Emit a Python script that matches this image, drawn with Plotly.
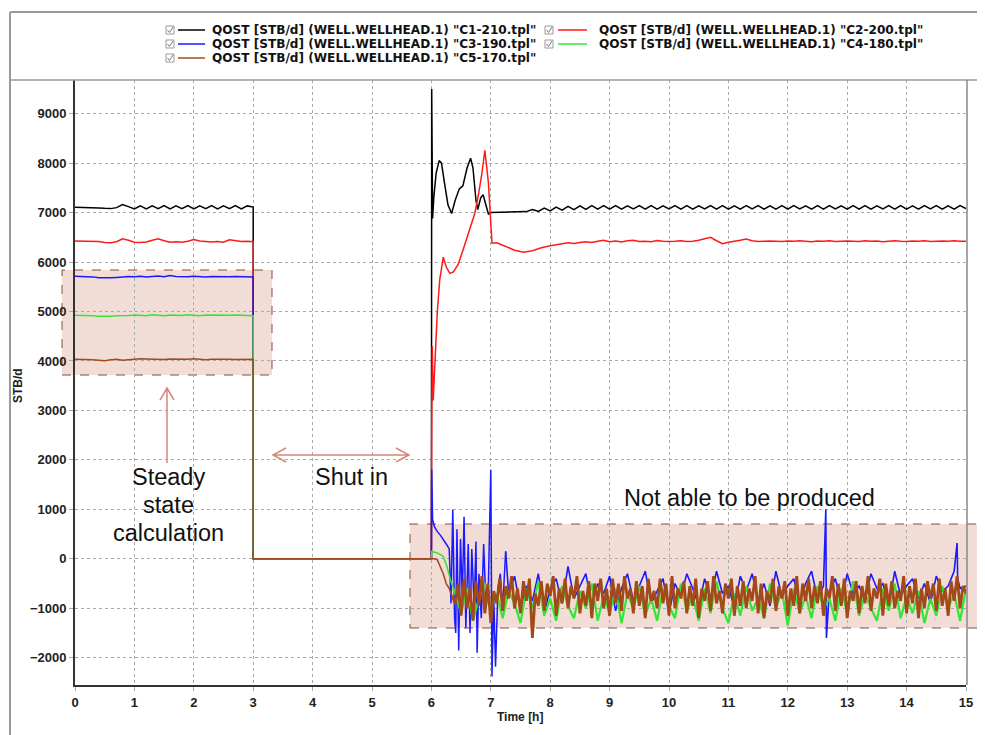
import numpy as np
import plotly.graph_objects as go

# ---------------- data (hours, STB/d) ----------------
t_steady = [0.0, 0.1, 0.2, 0.3, 0.4, 0.5, 0.6, 0.7, 0.8, 0.9, 1.0, 1.1, 1.2, 1.3, 1.4, 1.5,
            1.6, 1.7, 1.8, 1.9, 2.0, 2.1, 2.2, 2.3, 2.4, 2.5, 2.6, 2.7, 2.8, 2.9, 3.0]
t_shut = [3.0, 6.0]
v_shut = [0, 0]

c1_steady = [7110, 7110, 7105, 7100, 7095, 7085, 7080, 7100, 7160, 7120,
             7075, 7135, 7075, 7135, 7080, 7140, 7075, 7135, 7080, 7140,
             7075, 7135, 7080, 7140, 7075, 7135, 7080, 7140, 7075, 7135, 7110]
c2_steady = [6425, 6425, 6425, 6420, 6415, 6395, 6390, 6410, 6470, 6440,
             6400, 6395, 6405, 6440, 6470, 6430, 6400, 6410, 6400, 6420,
             6455, 6425, 6410, 6405, 6415, 6400, 6450, 6430, 6415, 6420, 6410]
c3_steady = [5715, 5715, 5710, 5700, 5685, 5675, 5680, 5690, 5700, 5710,
             5705, 5715, 5700, 5710, 5720, 5705, 5730, 5710, 5700, 5705,
             5715, 5705, 5700, 5710, 5705, 5715, 5705, 5710, 5705, 5705, 5700]
c4_steady = [4925, 4925, 4920, 4915, 4905, 4900, 4905, 4915, 4925, 4920,
             4930, 4925, 4915, 4935, 4925, 4915, 4930, 4925, 4920, 4935,
             4925, 4915, 4930, 4925, 4935, 4920, 4925, 4930, 4920, 4925, 4915]
c5_steady = [4035, 4035, 4030, 4025, 4015, 4005, 4025, 4035, 4015, 4025,
             4035, 4045, 4040, 4035, 4025, 4030, 4040, 4035, 4025, 4035,
             4045, 4035, 4025, 4035, 4040, 4045, 4035, 4030, 4035, 4035, 4035]

# restart transients
c1_restart_t = [6.0, 6.005, 6.02, 6.04, 6.08, 6.13, 6.17, 6.22, 6.28, 6.34, 6.4, 6.47, 6.53,
                6.6, 6.66, 6.7, 6.75, 6.78, 6.83, 6.87, 6.92, 6.96, 7.0, 7.2, 7.4, 7.6]
c1_restart_v = [0, 9500, 6880, 7300, 7800, 8050, 8000, 7600, 7150, 6980, 7250, 7480, 7540,
                7900, 8100, 7900, 7250, 7060, 7300, 7360, 7150, 6970, 7000, 7010, 7015, 7020]
c2_restart_t = [6.0, 6.005, 6.015, 6.03, 6.06, 6.1, 6.14, 6.2, 6.25, 6.31,
                6.37, 6.45, 6.52, 6.6, 6.67, 6.73, 6.79, 6.85, 6.9, 6.93,
                6.96, 7.02, 7.1, 7.2, 7.3, 7.4, 7.55, 7.7, 7.85, 8.0]
c2_restart_v = [0, 2600, 4300, 3200, 3900, 5000, 5640, 6100, 5900, 5770,
                5800, 5950, 6200, 6500, 6750, 6980, 7350, 7790, 8260, 7950,
                7600, 6380, 6390, 6340, 6290, 6240, 6200, 6230, 6290, 6330]
c3_restart_t = [6.0, 6.005, 6.02, 6.05, 6.1, 6.15, 6.2, 6.25, 6.3, 6.33,
                6.36, 6.39, 6.41, 6.43, 6.46, 6.49, 6.52, 6.55, 6.58, 6.62,
                6.65, 6.68, 6.72, 6.75, 6.77, 6.8, 6.84, 6.88, 6.92, 6.96,
                7.0, 7.02, 7.05, 7.08, 7.12, 7.16, 7.2, 7.25]
c3_restart_v = [0, 1800, 800, 650, 550, 480, 400, 300, 200, -900,
                1000, -1200, -1500, 600, -1850, 400, -800, 850, -1400, 300,
                -1500, 200, -1000, 350, -1900, -300, -1200, 300, -1000, -500,
                1800, -2380, -800, -2180, -600, -300, -1000, 150]
c4_restart_t = [6.0, 6.005, 6.1, 6.2, 6.26, 6.32, 6.37]
c4_restart_v = [0, 150, 120, 50, -150, -420, -600]
c5_restart_t = [6.0, 6.05, 6.1, 6.15, 6.2, 6.25, 6.3, 6.35]
c5_restart_v = [0, 0, -20, -150, -300, -500, -600, -750]

# late-time records
c1_tail_v = [7060, 7025, 7090, 7035, 7110, 7050, 7125, 7060, 7135, 7065,
             7140, 7070, 7140, 7070, 7140, 7070, 7135, 7075, 7140, 7070,
             7140, 7070, 7135, 7075, 7140, 7070, 7140, 7070, 7135, 7075,
             7140, 7070, 7140, 7070, 7135, 7070, 7140, 7075, 7140, 7070,
             7135, 7070, 7140, 7070, 7140, 7075, 7135, 7070, 7140, 7070,
             7140, 7075, 7135, 7070, 7140, 7070, 7140, 7070, 7135, 7075,
             7140, 7070, 7140, 7070, 7135, 7070, 7140, 7075, 7140, 7070,
             7135, 7070, 7140, 7080]
c2_tail_v = [6350, 6370, 6390, 6375, 6395, 6410, 6395, 6420, 6440, 6410,
             6425, 6405, 6430, 6440, 6415, 6420, 6410, 6435, 6420, 6415,
             6420, 6430, 6415, 6420, 6440, 6470, 6500, 6430, 6370, 6400,
             6420, 6440, 6465, 6430, 6415, 6420, 6425, 6420, 6415, 6425,
             6420, 6430, 6420, 6410, 6425, 6420, 6430, 6415, 6420, 6425,
             6420, 6415, 6430, 6420, 6425, 6410, 6420, 6430, 6420, 6415,
             6425, 6420, 6430, 6415, 6420, 6425, 6420, 6430, 6420, 6420]
c3_tail_v = [-700, -350, -1000, -550, -850, -300, -1100, -600, -400, -900,
             -150, -800, -550, -300, -950, -500, -700, -350, -1050, -600,
             -300, -850, -550, -250, -900, -650, -400, -1100, -500, -750,
             -300, -600, -950, -400, -800, -250, -700, -550, -1000, -350,
             -650, -300, -850, -500, -950, -250, -750, -550, -400, -900,
             -500, -250, -800, -550, -650, -400, -900, -300, -700, -550,
             -850, -300, -600, -500, -950, -250, -750, -550, -400, -800,
             -500, -900, -350, -650, -550, -250, -600, -550]
c3_spike_t = [12.64, 12.65, 14.85, 14.86]
c3_spike_v = [1000, -1600, 320, -400]
c4_tail_v = [-700, -1100, -600, -1250, -800, -500, -1000, -700, -1200, -650,
             -900, -1300, -600, -1000, -450, -1150, -800, -1250, -550, -950,
             -1200, -650, -1000, -500, -1250, -750, -1100, -600, -1300, -700,
             -1000, -550, -1150, -800, -1250, -600, -950, -1200, -500, -1050,
             -750, -1250, -600, -1100, -450, -1000, -1300, -700, -1150, -550,
             -1050, -800, -1200, -500, -1000, -650, -1350, -600, -1100, -750,
             -1200, -550, -1000, -800, -1250, -600, -1100, -450, -1150, -700,
             -1000, -1250, -600, -1050, -500, -1200, -750, -1100, -650, -1300,
             -800, -1150, -550, -1000, -700, -1250, -600]
c5_tail_v = [-900, -500, -1150, -400, -1000, -600, -1250, -450, -950, -350,
             -1100, -500, -1300, -650, -900, -400, -1050, -550, -800, -350,
             -1000, -600, -1100, -450, -850, -400, -1600, -700, -950, -450,
             -1050, -500, -750, -350, -1150, -600, -900, -400, -1000, -550,
             -800, -350, -1100, -650, -950, -450, -1200, -500, -850, -400,
             -1000, -600, -1150, -400, -900, -500, -1050, -350, -800, -600,
             -1100, -450, -950, -550, -1200, -400, -850, -650, -1000, -400,
             -900, -500, -1150, -350, -1000, -600, -800, -450, -1100, -550,
             -950, -400, -1200, -600, -850, -450, -1050, -350, -900, -650,
             -1100, -500, -800, -400, -1150, -550, -950, -450, -1000, -600,
             -850, -350, -1100, -500, -1200, -650, -900, -400, -1050, -550,
             -800, -450, -1150, -600, -950, -350, -1100, -500, -850, -400,
             -1000, -550, -900, -450, -1150, -600, -800, -350, -1050, -500,
             -950, -400, -1200, -650, -850, -450, -1100, -550, -900, -350,
             -1050, -600, -800, -400, -1150, -500, -950, -450, -1000, -650,
             -850, -350, -1100, -550, -900, -400, -1200, -600, -1000, -450,
             -800, -500, -1050, -400, -950, -600, -1150, -450, -850, -350,
             -1000, -550, -700]

# sampling grids of the late-time records
c1_tail_t = np.round(np.arange(7.7, 15.0001, 0.1), 3)
c2_tail_t = np.round(np.arange(8.1, 15.0001, 0.1), 3)
c3_tail_t = np.round(np.arange(7.3, 15.0001, 0.1), 3)
c4_tail_t = np.round(np.arange(6.4, 15.0001, 0.1), 3)
c5_tail_t = np.round(np.arange(6.4, 15.0001, 0.05), 3)

names = ['QOST [STB/d] (WELL.WELLHEAD.1) "C1-210.tpl"',
         'QOST [STB/d] (WELL.WELLHEAD.1) "C2-200.tpl"',
         'QOST [STB/d] (WELL.WELLHEAD.1) "C3-190.tpl"',
         'QOST [STB/d] (WELL.WELLHEAD.1) "C4-180.tpl"',
         'QOST [STB/d] (WELL.WELLHEAD.1) "C5-170.tpl"']
colors = ['#000000', '#ff1a1a', '#1a1aff', '#33e633', '#a24a18']
tail_widths = [1.5, 1.5, 1.6, 2.2, 2.8]

x_ticks = list(range(0, 16))
y_ticks = [-2000, -1000, 0, 1000, 2000, 3000, 4000, 5000, 6000, 7000, 8000, 9000]


def build(steady, rt, rv, tt, tv, extra_t=None, extra_v=None):
    tail_t = list(tt)
    tail_v = list(tv)
    if extra_t is not None:
        tail_t += list(extra_t)
        tail_v += list(extra_v)
        order = np.argsort(tail_t, kind='stable')
        tail_t = [tail_t[i] for i in order]
        tail_v = [tail_v[i] for i in order]
    early_t = list(t_steady) + t_shut + list(rt)
    early_v = list(steady) + v_shut + list(rv)
    # tail starts from the last restart sample so the line is continuous
    tail_t = [early_t[-1]] + tail_t
    tail_v = [early_v[-1]] + tail_v
    return early_t, early_v, tail_t, tail_v


series = [
    build(c1_steady, c1_restart_t, c1_restart_v, c1_tail_t, c1_tail_v),
    build(c2_steady, c2_restart_t, c2_restart_v, c2_tail_t, c2_tail_v),
    build(c3_steady, c3_restart_t, c3_restart_v, c3_tail_t, c3_tail_v, c3_spike_t, c3_spike_v),
    build(c4_steady, c4_restart_t, c4_restart_v, c4_tail_t, c4_tail_v),
    build(c5_steady, c5_restart_t, c5_restart_v, c5_tail_t, c5_tail_v),
]

fig = go.Figure()
for (et, ev, tt, tv), name, col in zip(series, names, colors):
    fig.add_trace(go.Scatter(x=et, y=ev, mode='lines', name=name, legendgroup=name,
                             line=dict(color=col, width=1.5), showlegend=False))
for (et, ev, tt, tv), name, col, w in zip(series, names, colors, tail_widths):
    fig.add_trace(go.Scatter(x=tt, y=tv, mode='lines', name=name, legendgroup=name,
                             line=dict(color=col, width=w, simplify=False), showlegend=False))

# page has an 8px body margin: figure is placed at (8, 8)
OFF = 8
W, H = 977, 727
PL, PR, PT, PB = 75, 966, 80, 685          # plot area in page pixels
L, T = PL - OFF, PT - OFF
R = W - (PR - OFF)
B = H - (PB - OFF)
PW, PH = PR - PL, PB - PT


def px(x):
    return (x - PL) / PW


def py(y):
    return (PB - y) / PH


shapes = []
box_fill = '#f2dcd6'
box_line = dict(color='#8a4a40', width=1, dash='dash')
shapes.append(dict(type='rect', xref='paper', yref='paper', x0=px(62), x1=px(272),
                   y0=py(375), y1=py(270), fillcolor=box_fill, line=box_line, layer='below'))
shapes.append(dict(type='rect', xref='paper', yref='paper', x0=px(410), x1=px(983),
                   y0=py(628), y1=py(524), fillcolor=box_fill, line=box_line, layer='below'))

gray = '#9a9a9a'
shapes.append(dict(type='line', xref='paper', yref='paper', x0=px(10), x1=px(985),
                   y0=py(12), y1=py(12), line=dict(color=gray, width=2)))
shapes.append(dict(type='line', xref='paper', yref='paper', x0=px(10), x1=px(985),
                   y0=py(80), y1=py(80), line=dict(color=gray, width=1.5)))
shapes.append(dict(type='line', xref='paper', yref='paper', x0=px(10), x1=px(10),
                   y0=py(12), y1=py(735), line=dict(color=gray, width=2)))
shapes.append(dict(type='line', xref='paper', yref='paper', x0=px(967), x1=px(967),
                   y0=py(80), y1=py(685), line=dict(color='#888888', width=1.5)))

ac = '#d4877a'


def path(points_list):
    s = ''
    for pts in points_list:
        s += 'M ' + ' L '.join(f'{px(a):.5f},{py(b):.5f}' for a, b in pts) + ' '
    return s.strip()


shapes.append(dict(type='path', xref='paper', yref='paper',
                   path=path([[(167, 463), (167, 388)], [(160, 400), (167, 388), (174, 400)]]),
                   line=dict(color=ac, width=1.5)))
shapes.append(dict(type='path', xref='paper', yref='paper',
                   path=path([[(273, 455), (409, 455)], [(286, 448), (273, 455), (286, 462)],
                              [(396, 448), (409, 455), (396, 462)]]),
                   line=dict(color=ac, width=1.5)))

annotations = []
rows = [30, 44, 58]
legend_pos = [(0, 0), (1, 0), (0, 1), (1, 1), (0, 2)]
cols = [(166, 178, 205, 210), (545, 558, 587, 597)]
leg_font = dict(family='DejaVu Sans', size=12.1, color='#111111', weight='bold')
for (c, r), name, col in zip(legend_pos, names, colors):
    cb, l0, l1, tx = cols[c]
    y = rows[r]
    shapes.append(dict(type='rect', xref='paper', yref='paper', x0=px(cb), x1=px(cb + 8),
                       y0=py(y + 4), y1=py(y - 4), line=dict(color='#999999', width=1)))
    shapes.append(dict(type='path', xref='paper', yref='paper',
                       path=path([[(cb + 1.5, y), (cb + 3.5, y + 2.5), (cb + 7, y - 3)]]),
                       line=dict(color='#777777', width=1)))
    shapes.append(dict(type='line', xref='paper', yref='paper', x0=px(l0), x1=px(l1),
                       y0=py(y), y1=py(y), line=dict(color=col, width=1.5)))
    annotations.append(dict(xref='paper', yref='paper', x=px(tx), y=py(y), text=name,
                            showarrow=False, xanchor='left', yanchor='middle',
                            font=leg_font))

txt_font = dict(family='Liberation Sans, Arial', size=23.5, color='#111111')
for s, y in [('Steady', 477), ('state', 505), ('calculation', 533)]:
    annotations.append(dict(xref='paper', yref='paper', x=px(168), y=py(y), text=s,
                            showarrow=False, xanchor='center', yanchor='middle', font=txt_font))
annotations.append(dict(xref='paper', yref='paper', x=px(351), y=py(477), text='Shut in',
                        showarrow=False, xanchor='center', yanchor='middle', font=txt_font))
annotations.append(dict(xref='paper', yref='paper', x=px(749), y=py(498),
                        text='Not able to be produced',
                        showarrow=False, xanchor='center', yanchor='middle', font=txt_font))

axis_font = dict(family='Liberation Sans, Arial', size=13, color='#222222', weight='bold')
title_font = dict(family='Liberation Sans, Arial', size=12, color='#222222', weight='bold')
annotations.append(dict(xref='paper', yref='paper', x=px(520), y=py(717), text='Time [h]',
                        showarrow=False, xanchor='center', yanchor='middle', font=title_font))
annotations.append(dict(xref='paper', yref='paper', x=px(18), y=py(386), text='STB/d',
                        textangle=-90, showarrow=False, xanchor='center', yanchor='middle',
                        font=title_font))

fig.update_layout(
    width=W, height=H,
    margin=dict(l=L, r=R, t=T, b=B, pad=0),
    paper_bgcolor='white', plot_bgcolor='rgba(0,0,0,0)',
    showlegend=False,
    shapes=shapes, annotations=annotations,
    xaxis=dict(range=[0, 15], tickvals=x_ticks, showgrid=True, gridcolor='#aaaaaa',
               griddash='dot', gridwidth=1, zeroline=False, showline=True,
               linecolor='#333333', linewidth=2, ticks='outside', ticklen=4,
               tickcolor='#aaaaaa', tickfont=axis_font),
    yaxis=dict(range=[-2550, 9680], tickvals=y_ticks, showgrid=True, gridcolor='#aaaaaa',
               griddash='dot', gridwidth=1, zeroline=False, showline=True,
               linecolor='#333333', linewidth=2, ticks='outside', ticklen=4,
               tickcolor='#aaaaaa', tickfont=axis_font),
)

fig.write_html('out.html')
